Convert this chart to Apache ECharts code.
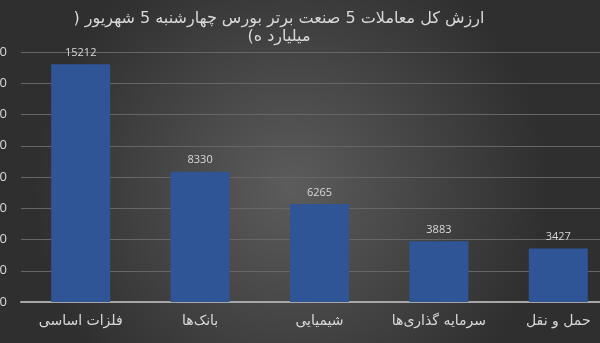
<!DOCTYPE html>
<html lang="fa">
<head>
    <meta charset="UTF-8">
    <title>ارزش کل معاملات</title>
    <script src="https://cdn.jsdelivr.net/npm/echarts@6/dist/echarts.min.js"></script>
    <style>
        html, body { margin: 0; padding: 0; background: #333; overflow: hidden; }
        /* نمودار کمی پهن‌تر از پنجره است تا برچسب آخر مثل تصویر بریده شود */
        #chart { width: 618px; height: 343px; }
    </style>
</head>
<body>
    <div id="chart"></div>
    <script>
        // داده‌ها
        const categories = ['فلزات اساسی', 'بانک‌ها', 'شیمیایی', 'سرمایه گذاری‌ها', 'حمل و نقل'];
        const values = [15212, 8330, 6265, 3883, 3427];
        const RLM = '\u200F';
        const titleLines = ['ارزش کل معاملات 5 صنعت برتر بورس چهارشنبه 5 شهریور (', 'میلیارد ه)'];

        const chart = echarts.init(document.getElementById('chart'));

        chart.setOption({
            backgroundColor: {
                type: 'radial', x: 0.47, y: 0.55, r: 0.75,
                colorStops: [
                    { offset: 0, color: '#5c5c5c' },
                    { offset: 1, color: '#2f2f2f' }
                ]
            },
            title: {
                text: titleLines.map(function (s) { return RLM + s + RLM; }).join('\n'),
                left: 274,
                top: 5,
                textAlign: 'center',
                textStyle: {
                    color: '#d9d9d9',
                    fontSize: 16,
                    fontWeight: 'normal',
                    lineHeight: 18,
                    fontFamily: 'DejaVu Sans'
                }
            },
            grid: { left: 21, right: 0, top: 52, bottom: 41, containLabel: false, outerBoundsMode: 'none' },
            xAxis: {
                type: 'category',
                data: categories,
                axisLine: { lineStyle: { color: '#a6a6a6', width: 2 } },
                axisTick: { show: false },
                axisLabel: {
                    interval: 0,
                    hideOverlap: false,
                    color: '#d9d9d9',
                    fontSize: 14,
                    margin: 12,
                    fontFamily: 'DejaVu Sans'
                }
            },
            yAxis: {
                type: 'value',
                min: 0,
                max: 16000,
                interval: 2000,
                axisLine: { show: false },
                axisTick: { show: false },
                splitLine: { lineStyle: { color: '#666666', width: 1 } },
                axisLabel: {
                    formatter: '{value}',
                    color: '#d9d9d9',
                    fontSize: 13,
                    margin: 14,
                    fontFamily: 'Open Sans'
                }
            },
            series: [{
                type: 'bar',
                data: values,
                barWidth: 59,
                itemStyle: { color: '#2f5597' },
                label: {
                    show: true,
                    position: 'top',
                    distance: 6,
                    color: '#d9d9d9',
                    fontSize: 11,
                    fontFamily: 'Open Sans'
                }
            }]
        });
    </script>
</body>
</html>
